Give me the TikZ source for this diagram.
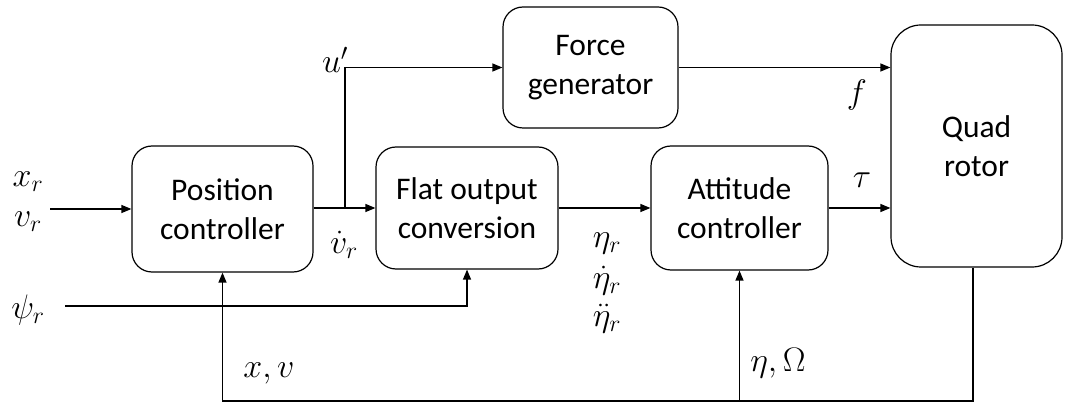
\RequirePackage{fix-cm}
\documentclass[tikz,border=0pt]{standalone}
\usepackage{fontspec}
\setmainfont{Carlito}
\usetikzlibrary{arrows.meta}
\begin{document}
\begin{tikzpicture}[x=1pt,y=-1pt,
  blk/.style={draw, line width=1.2pt, rounded corners=20pt, align=center,
    font=\fontsize{31.5}{39}\selectfont, inner sep=0pt},
  sig/.style={line width=1.2pt, -{Triangle[length=10pt,width=8pt]}},
  wire/.style={line width=1.2pt},
  lbl/.style={font=\fontsize{34}{40}\selectfont, inner sep=0pt}]
\useasboundingbox (0,0) rectangle (1073,403);
\node[blk, minimum width=181pt, minimum height=126pt] (pos) at (222.5,209) {Position\\controller};
\node[blk, minimum width=182pt, minimum height=122pt] (flat) at (467,208) {Flat output\\conversion};
\node[blk, minimum width=177pt, minimum height=124pt] (att) at (739.5,208) {Attitude\\controller};
\node[blk, minimum width=175pt, minimum height=121pt] (force) at (590.5,67.5) {Force\\generator};
\node[blk, rounded corners=30pt, minimum width=171pt, minimum height=242pt] (quad) at (976.5,146) {Quad\\rotor};

\coordinate (inref) at (50,209);
\coordinate (psiin) at (65,306);
\coordinate (br) at (345,208);
\coordinate (fb) at (973,401);

% main chain
\draw[sig] (inref) -- (pos.west |- inref);
\draw[sig] (pos.east |- br) -- (flat.west |- br);
\draw[sig] (flat.east |- att.west) -- (att.west);
\draw[sig] (att.east) -- (quad.west |- att.east);
% branch to force generator
\draw[sig] (br) |- (force.west);
\draw[sig] (force.east) -- (quad.west |- force.east);
% psi_r
\draw[sig] (psiin) -| (flat.south);
% feedback
\draw[sig] (quad.south -| fb) -- (fb) -| (pos.south);
\draw[sig] (att.south |- fb) -- (att.south);

% labels
\node[lbl] (lxr) at (28,182) {$x_r$};
\node[lbl] (lvr) at (28,222) {$v_r$};
\node[lbl] (lpsi) at (28,310) {$\psi_r$};
\node[lbl] (lvdot) at (344,245) {$\dot v_r$};
\node[lbl] (lu) at (335,60) {$u'$};
\node[lbl] (lf) at (857,95) {$f$};
\node[lbl] (ltau) at (862,180) {$\tau$};
\node[lbl] (leta1) at (607,243) {$\eta_r$};
\node[lbl] (leta2) at (607,281) {$\dot\eta_r$};
\node[lbl] (leta3) at (607,319) {$\ddot\eta_r$};
\node[lbl] (letaO) at (778,363) {$\eta,\Omega$};
\node[lbl] (lxv) at (269,373) {$x,v$};
\end{tikzpicture}
\end{document}
